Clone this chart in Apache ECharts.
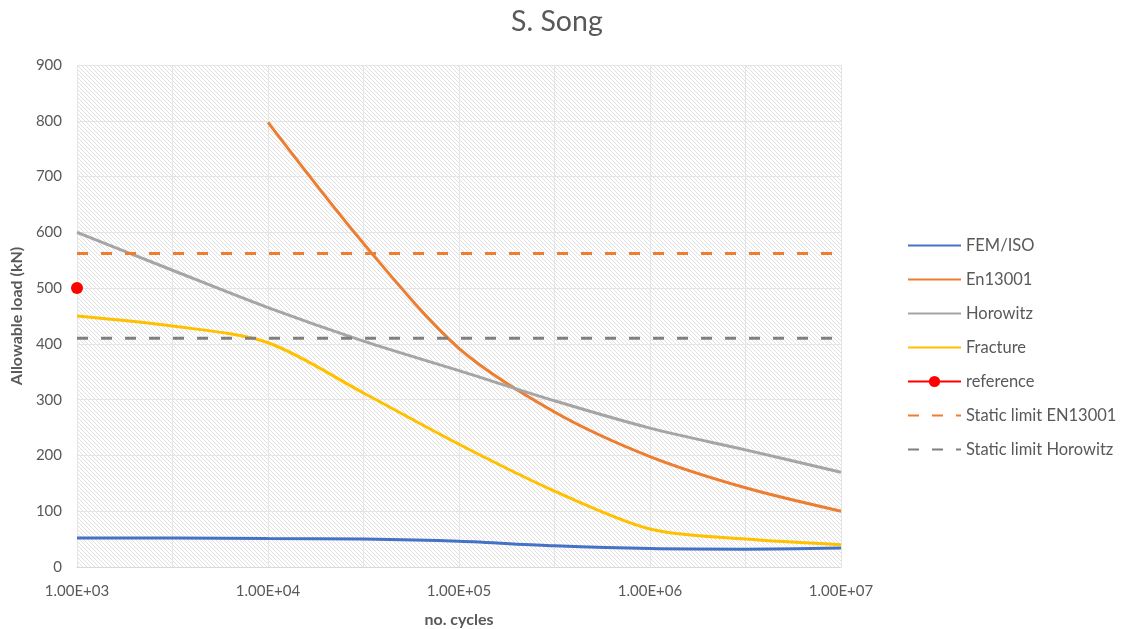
<!DOCTYPE html>
<html>
<head>
<meta charset="utf-8">
<script src="https://cdn.jsdelivr.net/npm/echarts@6/dist/echarts.min.js"></script>
<style>html,body{margin:0;padding:0;background:#fff;}#c{width:1122px;height:629px;}</style>
</head>
<body>
<div id="c"></div>
<script>
// ---- data ----
const cycles = [1000, 3162, 10000, 31623, 100000, 316228, 1000000, 3162278, 10000000];
const femIso = [52, 52, 51, 50, 46, 38, 33, 32, 34];
const horowitz = [600, 532, 465, 405, 352, 298, 249, 210, 170];
const fracture = [450, 432, 402, 312, 220, 136, 68, 50, 40];
const en13001Cycles = [10000, 31623, 100000, 316228, 1000000, 3162278, 10000000];
const en13001 = [797, 580, 392, 278, 198, 142, 100];
const referenceCycles = [1000];
const reference = [500];
const staticCycles = [1000, 10000000];
const staticEN13001 = [562, 562];
const staticHorowitz = [410, 410];
const yTicks = [0, 100, 200, 300, 400, 500, 600, 700, 800, 900];
const seriesNames = ['FEM/ISO', 'En13001', 'Horowitz', 'Fracture', 'reference', 'Static limit EN13001', 'Static limit Horowitz'];

const pair = (xs, ys) => xs.map((x, i) => [x, ys[i]]);

// hatch pattern
const pc = document.createElement('canvas');
pc.width = 4; pc.height = 4;
const pctx = pc.getContext('2d');
pctx.fillStyle = '#ffffff'; pctx.fillRect(0, 0, 4, 4);
pctx.fillStyle = '#e0e0e0';
for (let i = 0; i < 4; i++) pctx.fillRect(i, i, 1, 1);

const FONT = 'Lato';
const TXT = '#595959';

const chart = echarts.init(document.getElementById('c'), null, {renderer: 'canvas'});
const lineS = (name, data, color, extra) => Object.assign({
  name, type: 'line', data, smooth: 0.3, symbol: 'none',
  lineStyle: {color, width: 3}, itemStyle: {color}
}, extra || {});

chart.setOption({
  animation: false,
  backgroundColor: '#ffffff',
  title: {
    text: 'S. Song', left: 506, top: 2,
    textStyle: {fontFamily: FONT, fontSize: 28.5, fontWeight: 'normal', color: TXT}
  },
  grid: {
    left: 77, right: 281, top: 65, bottom: 62, show: true,
    outerBoundsMode: 'none', containLabel: false,
    backgroundColor: {image: pc, repeat: 'repeat'}, borderWidth: 0
  },
  legend: {
    orient: 'vertical', left: 902, top: 232, itemWidth: 53, itemHeight: 14, itemGap: 17,
    itemStyle: {opacity: 0},
    data: seriesNames.map(n => n === 'reference' ? {name: n, itemStyle: {opacity: 1}} : {name: n}),
    textStyle: {fontFamily: FONT, fontSize: 16.5, color: TXT}
  },
  xAxis: {
    type: 'log', logBase: Math.sqrt(10), min: 1000, max: 10000000,
    name: 'no. cycles', nameLocation: 'middle', nameGap: 45,
    nameTextStyle: {fontFamily: FONT, fontSize: 16, fontWeight: 'bold', color: TXT},
    axisLine: {show: true, lineStyle: {color: '#d9d9d9', width: 1}},
    axisTick: {show: false},
    splitLine: {show: true, lineStyle: {color: '#e4e4e4', width: 1}},
    axisLabel: {
      interval: 0, margin: 17, fontFamily: FONT, fontSize: 15, color: TXT,
      formatter: v => {
        const e = Math.log10(v);
        const r = Math.round(e);
        if (Math.abs(e - r) > 1e-6) return '';
        return '1.00E+' + (r < 10 ? '0' : '') + r;
      }
    }
  },
  yAxis: {
    type: 'value', min: yTicks[0], max: yTicks[yTicks.length - 1], interval: 100,
    name: 'Allowable load (kN)', nameLocation: 'middle', nameGap: 50,
    nameTextStyle: {fontFamily: FONT, fontSize: 16, fontWeight: 'bold', color: TXT},
    axisLine: {show: false}, axisTick: {show: false},
    splitLine: {show: true, lineStyle: {color: '#e4e4e4', width: 1}},
    axisLabel: {margin: 15, fontFamily: FONT, fontSize: 15, color: TXT}
  },
  series: [
    lineS('FEM/ISO', pair(cycles, femIso), '#4472C4'),
    lineS('En13001', pair(en13001Cycles, en13001), '#ED7D31'),
    lineS('Horowitz', pair(cycles, horowitz), '#A5A5A5'),
    lineS('Fracture', pair(cycles, fracture), '#FFC000'),
    {
      name: 'reference', type: 'line', data: pair(referenceCycles, reference),
      symbol: 'circle', symbolSize: 12, showSymbol: true,
      lineStyle: {color: '#FF0000', width: 3}, itemStyle: {color: '#FF0000'}
    },
    lineS('Static limit EN13001', pair(staticCycles, staticEN13001), '#ED7D31',
      {smooth: false, lineStyle: {color: '#ED7D31', width: 3, type: [11, 13]}}),
    lineS('Static limit Horowitz', pair(staticCycles, staticHorowitz), '#7F7F7F',
      {smooth: false, lineStyle: {color: '#7F7F7F', width: 3, type: [11, 13]}})
  ]
});
</script>
</body>
</html>
